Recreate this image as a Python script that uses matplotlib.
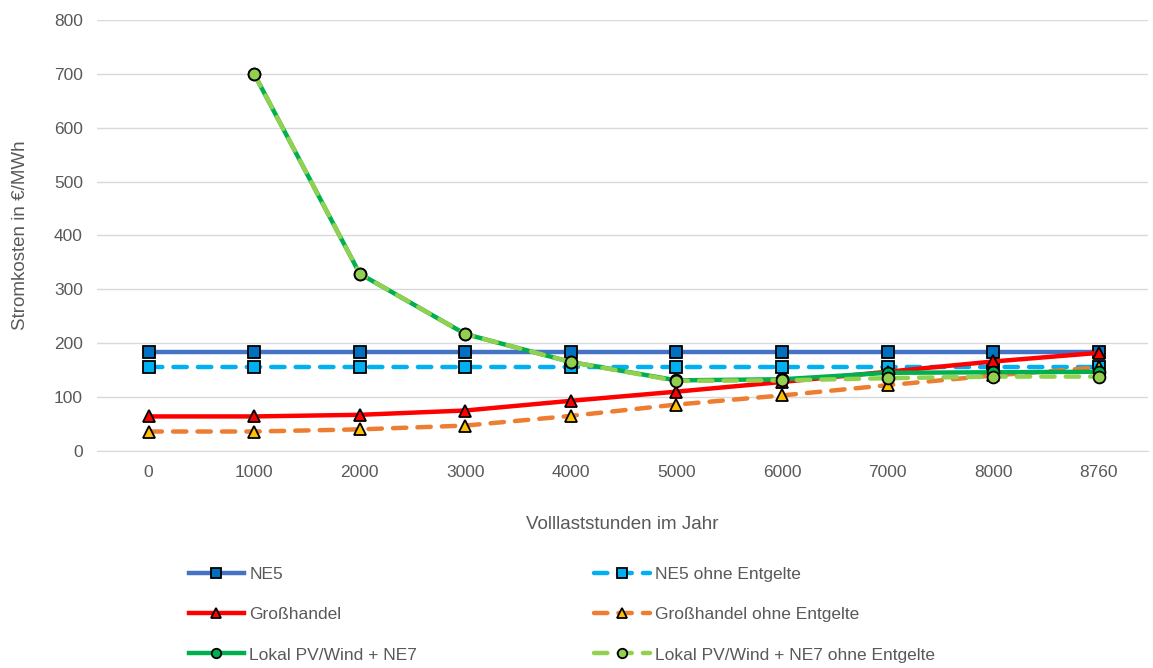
import numpy as np
import matplotlib.pyplot as plt

stunden = ['0', '1000', '2000', '3000', '4000', '5000', '6000', '7000', '8000', '8760']
ne5 = [183, 183, 183, 183, 183, 183, 183, 183, 183, 183]
ne5_ohne = [155, 155, 155, 155, 155, 155, 155, 155, 155, 155]
grosshandel = [64, 64, 67, 75, 93, 110, 128, 147, 166, 182]
grosshandel_ohne = [36, 36, 40, 47, 65, 86, 103, 122, 140, 155]
lokal = [np.nan, 700, 329, 217, 165, 131, 133, 145, 146, 147]
lokal_ohne = [np.nan, 700, 329, 217, 165, 130, 131, 135, 138, 138]

plt.rcParams['font.family'] = ['Liberation Sans Narrow', 'Liberation Sans', 'DejaVu Sans']
grau = '#595959'

fig = plt.figure(figsize=(11.53, 6.68), dpi=100)
ax = fig.add_axes([0.084, 0.325, 0.912, 0.645])
x = np.arange(len(stunden))

lw = 3.2
ms = 8.5
ax.plot(x, ne5, color='#4472c4', lw=lw, marker='s', ms=ms, mfc='#0070c0', mec='black', mew=1.3, label='NE5')
ax.plot(x, ne5_ohne, color='#00b0f0', lw=lw, ls=(0, (3, 2.5)), dash_capstyle='round', marker='s', ms=ms, mfc='#00b0f0', mec='black', mew=1.3, label='NE5 ohne Entgelte')
ax.plot(x, grosshandel, color='#ff0000', lw=lw, marker='^', ms=ms, mfc='#ff0000', mec='black', mew=1.3, label='Großhandel')
ax.plot(x, grosshandel_ohne, color='#ed7d31', lw=lw, ls=(0, (3, 2.5)), dash_capstyle='round', marker='^', ms=ms, mfc='#ffc000', mec='black', mew=1.3, label='Großhandel ohne Entgelte')
ax.plot(x, lokal, color='#00b050', lw=lw, marker='o', ms=ms, mfc='#00b050', mec='black', mew=1.3, label='Lokal PV/Wind + NE7')
ax.plot(x, lokal_ohne, color='#92d050', lw=lw, ls=(0, (3, 2.5)), dash_capstyle='round', marker='o', ms=ms, mfc='#92d050', mec='black', mew=1.3, label='Lokal PV/Wind + NE7 ohne Entgelte')

ax.set_xlim(-0.49, 9.47)
ax.set_ylim(0, 800)
ax.set_yticks(range(0, 801, 100))
ax.set_xticks(x)
ax.set_xticklabels(stunden)
ax.tick_params(colors=grau, labelsize=12.5, length=0, pad=10)
ax.grid(axis='y', color='#d9d9d9', lw=1)
ax.set_axisbelow(True)
for s in ['top', 'right', 'left']:
    ax.spines[s].set_visible(False)
ax.spines['bottom'].set_color('#d9d9d9')

ax.set_xlabel('Volllaststunden im Jahr', fontsize=13.5, color=grau, labelpad=26)
ax.set_ylabel('Stromkosten in €/MWh', fontsize=13.5, color=grau, labelpad=18)

h, l = ax.get_legend_handles_labels()
order = [0, 2, 4, 1, 3, 5]
leg = fig.legend([h[i] for i in order], [l[i] for i in order], ncol=2, frameon=False,
                 loc='upper left', bbox_to_anchor=(0.15, 0.175), fontsize=12.5,
                 labelcolor=grau, handlelength=3.2, handletextpad=0.3,
                 columnspacing=10.2, labelspacing=1.45, markerscale=0.8)

fig.savefig('out.png', dpi=100)
